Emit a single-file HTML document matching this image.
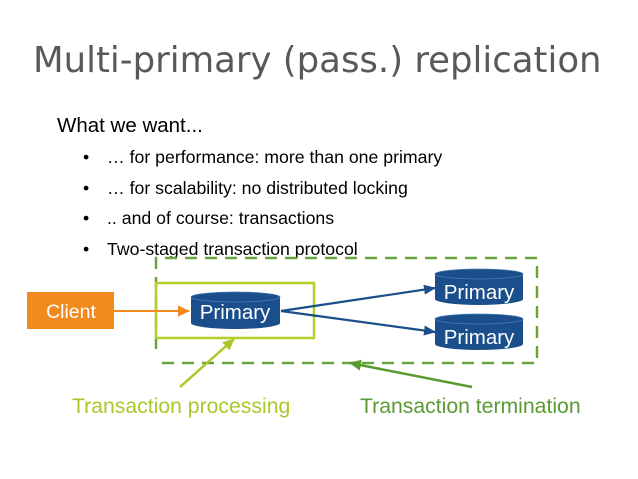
<!DOCTYPE html>
<html><head><style>
body{margin:0;width:638px;height:479px;background:#fff;overflow:hidden;position:relative}
</style></head><body>
<svg width="638" height="479" style="position:absolute;left:0;top:0" font-family="Liberation Sans">
<defs>
<marker id="ab" markerWidth="12" markerHeight="10" refX="11" refY="5" orient="auto" markerUnits="userSpaceOnUse"><path d="M0,0L12,5L0,10z" fill="#1a4f8b"/></marker>
<marker id="ao" markerWidth="12" markerHeight="11" refX="11" refY="5.5" orient="auto" markerUnits="userSpaceOnUse"><path d="M0,0L12,5.5L0,11z" fill="#f28a1e"/></marker>
<marker id="ag" markerWidth="12" markerHeight="11" refX="11" refY="5.5" orient="auto" markerUnits="userSpaceOnUse"><path d="M0,0L12,5.5L0,11z" fill="#a8c92a"/></marker>
<marker id="ad" markerWidth="12" markerHeight="11" refX="11" refY="5.5" orient="auto" markerUnits="userSpaceOnUse"><path d="M0,0L12,5.5L0,11z" fill="#5a9a33"/></marker>
</defs>
<text x="33" y="72" font-family="DejaVu Sans" font-size="35.5" fill="#595959">Multi-primary (pass.) replication</text>
<text x="57" y="132" font-size="20.5" fill="#000">What we want...</text>
<g font-size="17.7" fill="#000">
<text x="83" y="163">•</text><text x="107" y="163">… for performance: more than one primary</text>
<text x="83" y="194">•</text><text x="107" y="194">… for scalability: no distributed locking</text>
<text x="83" y="224">•</text><text x="107" y="224">.. and of course: transactions</text>
<text x="83" y="255">•</text><text x="107" y="255">Two-staged transaction protocol</text>
</g>
<path d="M156,349 V258 H537 V363 H156" fill="none" stroke="#6aa23f" stroke-width="2.5" stroke-dasharray="12,8"/>
<rect x="156" y="283" width="158" height="55" fill="none" stroke="#b5cf2a" stroke-width="2.5"/>
<rect x="27" y="292" width="87" height="37" fill="#f28a1e"/>
<text x="71" y="318" font-size="19.5" fill="#fff" text-anchor="middle">Client</text>
<line x1="114" y1="311" x2="189" y2="311" stroke="#f28a1e" stroke-width="2" marker-end="url(#ao)"/>
<g fill="#1a4f8b">
<path d="M191,297 v26 a44.5,6 0 0 0 89,0 v-26z"/><ellipse cx="235.5" cy="297" rx="44.5" ry="5"/>
<path d="M435,274 v25 a44,6 0 0 0 88,0 v-25z"/><ellipse cx="479" cy="274" rx="44" ry="5"/>
<path d="M435,319 v25 a44,6 0 0 0 88,0 v-25z"/><ellipse cx="479" cy="319" rx="44" ry="5"/>
</g>
<g fill="none" stroke="#4a7ab5" stroke-width="0.8">
<ellipse cx="235.5" cy="297" rx="44.5" ry="5"/><ellipse cx="479" cy="274" rx="44" ry="5"/><ellipse cx="479" cy="319" rx="44" ry="5"/>
</g>
<text x="235" y="319" font-size="20.5" fill="#fff" text-anchor="middle">Primary</text>
<text x="479" y="299" font-size="20.5" fill="#fff" text-anchor="middle">Primary</text>
<text x="479" y="344" font-size="20.5" fill="#fff" text-anchor="middle">Primary</text>
<line x1="281" y1="311" x2="435" y2="288" stroke="#1a4f8b" stroke-width="2.2" marker-end="url(#ab)"/>
<line x1="281" y1="311" x2="435" y2="332" stroke="#1a4f8b" stroke-width="2.2" marker-end="url(#ab)"/>
<line x1="180" y1="387" x2="234" y2="339" stroke="#a8c92a" stroke-width="2.5" marker-end="url(#ag)"/>
<line x1="472" y1="387" x2="350" y2="363" stroke="#5a9a33" stroke-width="2.5" marker-end="url(#ad)"/>
<text x="72" y="413" font-size="21.2" fill="#a8c92a">Transaction processing</text>
<text x="360" y="413" font-size="21.2" fill="#5a9a33">Transaction termination</text>
</svg>
</body></html>
